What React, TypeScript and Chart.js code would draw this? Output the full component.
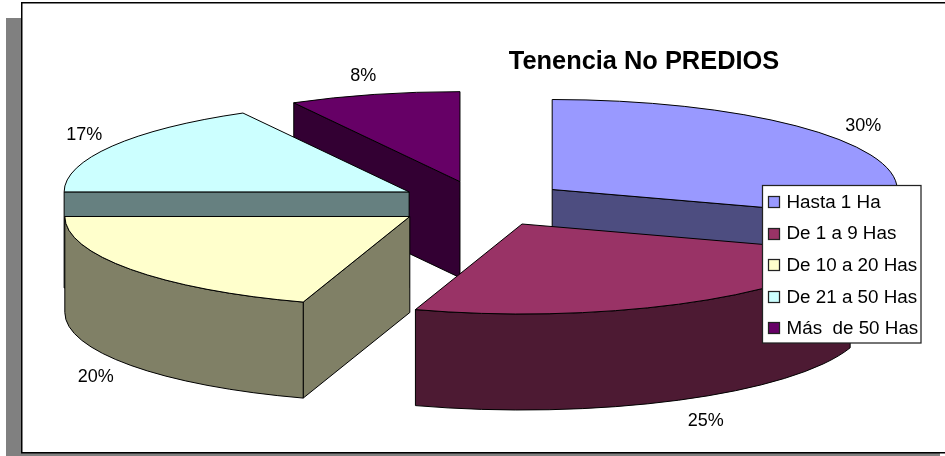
import React, { useEffect, useRef } from "react";
import { Chart, registerables } from "chart.js";

Chart.register(...registerables);

const TITLE = "Tenencia No PREDIOS";
const categories = ["Hasta 1 Ha", "De 1 a 9 Has", "De 10 a 20 Has", "De 21 a 50 Has", "Más  de 50 Has"];
const tenencia = [30, 25, 20, 17, 8];
const topColors = ["#9999FF", "#993366", "#FFFFCC", "#CCFFFF", "#660066"];
const wallColors = ["#4D4D80", "#4D1A33", "#808066", "#668080", "#330033"];
const explosion = [0.255, 0.262, 0.255, 0.242, 0.245];
const labelNudges = [[32, -11], [27, 21], [-35, 12], [-28, -11], [-11, -18]];
const paintOrder = [4, 3, 0, 2, 1];

const W = 945;
const H = 456;
const FONT = '"Liberation Sans", Arial, sans-serif';
const BASE_RADIUS = 170;
const CENTER = { x: 481, y: 203 };
const RX = 345;
const RY = 90;
const DEPTH = 96;

const apexOf = (mid: number, i: number) => ({
  x: CENTER.x + RX * explosion[i] * Math.cos(mid),
  y: CENTER.y + RY * explosion[i] * Math.sin(mid),
});

const pie3d = {
  id: "pie3d",
  beforeDraw(chart: any) {
    const c = chart.ctx;
    c.save();
    c.fillStyle = "#ffffff";
    c.fillRect(0, 0, W, H);
    c.fillStyle = "#808080";
    c.fillRect(6, 18, 934, 438);
    c.fillStyle = "#ffffff";
    c.fillRect(21, 2, 924, 451);
    c.strokeStyle = "#000000";
    c.lineWidth = 1.5;
    c.strokeRect(21.75, 2.75, 930, 450);
    c.restore();
  },
  beforeDatasetDraw(chart: any) {
    const c = chart.ctx;
    const arcs = chart.getDatasetMeta(0).data;
    const sx = RX / BASE_RADIUS;
    const sy = RY / BASE_RADIUS;
    c.save();
    c.lineWidth = 1;
    c.lineJoin = "round";
    c.strokeStyle = "#000000";
    for (const i of paintOrder) {
      const arc = arcs[i];
      const { x, y, startAngle: a, endAngle: b } = arc.getProps(["x", "y", "startAngle", "endAngle"]);
      const { x: ax, y: ay } = apexOf((a + b) / 2, i);
      const rim = (t: number) => ({ x: ax + RX * Math.cos(t), y: ay + RY * Math.sin(t) });
      const face = (t: number) => {
        const p = rim(t);
        c.beginPath();
        c.moveTo(ax, ay);
        c.lineTo(p.x, p.y);
        c.lineTo(p.x, p.y + DEPTH);
        c.lineTo(ax, ay + DEPTH);
        c.closePath();
        c.fillStyle = wallColors[i];
        c.fill();
        c.stroke();
      };
      // radial walls facing the viewer
      if (-Math.cos(a) > 1e-6) face(a);
      if (Math.cos(b) > 1e-6) face(b);
      // outer rim walls: the front half of the ellipse only
      for (const k of [0, 2, -2]) {
        const t0 = Math.max(a, k * Math.PI);
        const t1 = Math.min(b, (k + 1) * Math.PI);
        if (t1 > t0) {
          c.beginPath();
          c.ellipse(ax, ay, RX, RY, 0, t0, t1);
          c.ellipse(ax, ay + DEPTH, RX, RY, 0, t1, t0, true);
          c.closePath();
          c.fillStyle = wallColors[i];
          c.fill();
          c.stroke();
        }
      }
      // top face: the library's own arc, flattened and moved out
      c.save();
      c.translate(ax, ay);
      c.scale(sx, sy);
      c.translate(-x, -y);
      arc.draw(c);
      c.restore();
      const q = rim(a);
      c.beginPath();
      c.moveTo(ax, ay);
      c.lineTo(q.x, q.y);
      c.ellipse(ax, ay, RX, RY, 0, a, b);
      c.closePath();
      c.stroke();
    }
    c.restore();
    return false;
  },
  afterDatasetsDraw(chart: any) {
    const c = chart.ctx;
    const arcs = chart.getDatasetMeta(0).data;
    const total = tenencia.reduce((s, v) => s + v, 0);
    c.save();
    c.textBaseline = "middle";
    c.fillStyle = "#000000";
    // percentage labels
    c.textAlign = "center";
    c.font = `18px ${FONT}`;
    arcs.forEach((arc: any, i: number) => {
      const { startAngle: a, endAngle: b } = arc.getProps(["startAngle", "endAngle"]);
      const mid = (a + b) / 2;
      const apex = apexOf(mid, i);
      const px = apex.x + RX * Math.cos(mid);
      let py = apex.y + RY * Math.sin(mid);
      if (Math.sin(mid) > 0) py += DEPTH;
      c.fillText(`${Math.round((tenencia[i] / total) * 100)}%`, px + labelNudges[i][0], py + labelNudges[i][1]);
    });
    // title
    c.font = `bold 25.4px ${FONT}`;
    c.fillText(TITLE, 644, 62);
    // legend
    c.fillStyle = "#ffffff";
    c.fillRect(762, 185, 159, 158);
    c.strokeStyle = "#222222";
    c.lineWidth = 1.25;
    c.strokeRect(762.5, 185.5, 158.5, 157.5);
    c.textAlign = "left";
    c.font = `17.5px ${FONT}`;
    categories.forEach((name, i) => {
      const yy = 202 + i * 31.6;
      c.lineWidth = 1.25;
      c.fillStyle = topColors[i];
      c.fillRect(768.5, Math.round(yy) - 5.5, 11, 11);
      c.strokeStyle = "#222222";
      c.strokeRect(768.5, Math.round(yy) - 5.5, 11, 11);
      c.fillStyle = "#000000";
      c.save();
      c.translate(786.5, yy + 1);
      c.scale(1.075, 1);
      c.fillText(name, 0, 0);
      c.restore();
    });
    c.restore();
  },
};

export default function App() {
  const ref = useRef<HTMLCanvasElement>(null);
  useEffect(() => {
    document.body.style.margin = "0";
    const chart = new Chart(ref.current as HTMLCanvasElement, {
      type: "pie",
      data: {
        labels: categories,
        datasets: [
          {
            data: tenencia,
            backgroundColor: topColors,
            borderWidth: 0,
          } as any,
        ],
      },
      options: {
        animation: false,
        responsive: false,
        radius: BASE_RADIUS,
        plugins: { legend: { display: false }, title: { display: false }, tooltip: { enabled: false } },
      } as any,
      plugins: [pie3d],
    });
    return () => chart.destroy();
  }, []);
  return <canvas ref={ref} width={W} height={H} style={{ display: "block" }} />;
}
